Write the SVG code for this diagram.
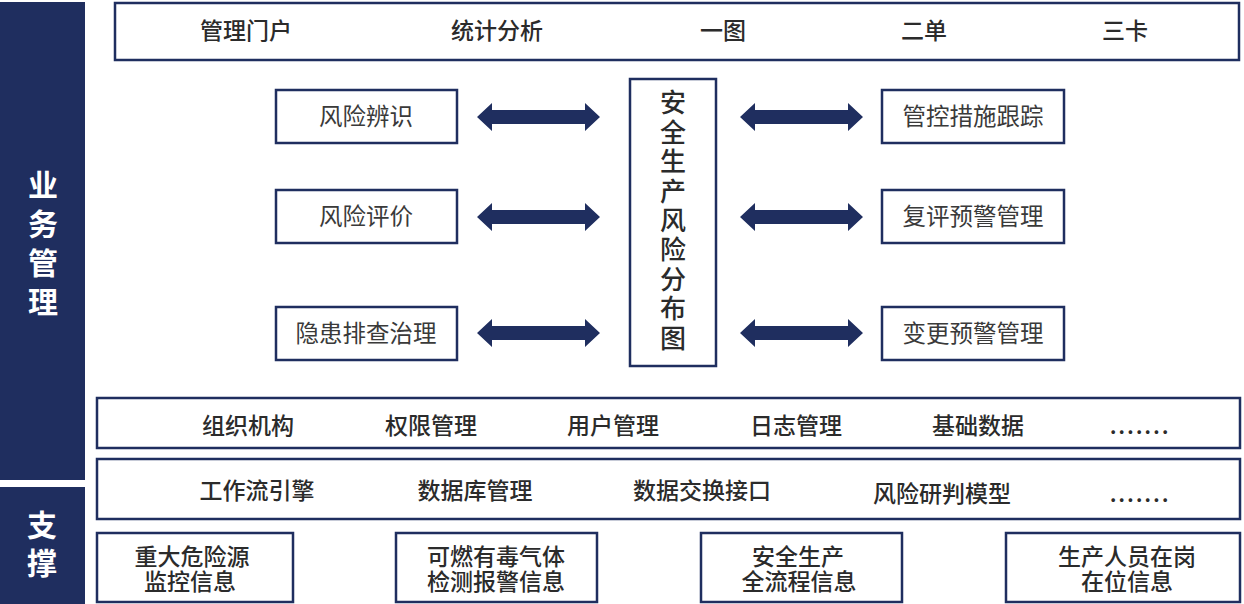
<svg xmlns="http://www.w3.org/2000/svg" width="1244" height="604" viewBox="0 0 1244 604">
<style>
.bar{fill:#1f2e5f}
.box{fill:#ffffff;stroke:#1f2e5f;stroke-width:2.5}
.side{font-family:"Noto Sans CJK SC","Noto Sans",sans-serif;font-size:30px;font-weight:bold;fill:#ffffff;writing-mode:vertical-rl;text-orientation:upright}
.t{font-family:"Noto Sans CJK SC","Noto Sans",sans-serif;font-size:23px;font-weight:500;fill:#2b2b2b;text-anchor:middle}
.m{font-family:"Noto Sans CJK SC","Noto Sans",sans-serif;font-size:23.5px;font-weight:400;fill:#3a3a3a;text-anchor:middle}
.c{font-family:"Noto Sans CJK SC","Noto Sans",sans-serif;font-size:26px;font-weight:500;fill:#2b2b2b;writing-mode:vertical-rl;text-orientation:upright;letter-spacing:3.4px}
.dots{letter-spacing:1.8px}
.arr{fill:#1f2e5f}
</style>
<defs>
<path id="dbl" d="M0,0 L15,-14 L15,-7 L108,-7 L108,-14 L123,0 L108,14 L108,7 L15,7 L15,14 Z"/>
</defs>
<rect width="1244" height="604" fill="#ffffff"/>

<g id="side-business">
<rect class="bar" x="0" y="2" width="85" height="478"/>
<text class="side" x="43" y="170" style="letter-spacing:9px">业务管理</text>
</g>
<g id="side-support">
<rect class="bar" x="0" y="487" width="85" height="117"/>
<text class="side" x="42" y="510" style="letter-spacing:8px">支撑</text>
</g>

<g id="top-bar">
<rect class="box" x="115" y="3" width="1124" height="57"/>
<text class="t" x="246" y="39">管理门户</text>
<text class="t" x="497" y="39">统计分析</text>
<text class="t" x="723" y="39">一图</text>
<text class="t" x="924" y="39">二单</text>
<text class="t" x="1125" y="39">三卡</text>
</g>

<g id="node-fxbs">
<rect class="box" x="276" y="90" width="181" height="53"/>
<text class="m" x="366" y="125">风险辨识</text>
</g>
<g id="node-fxpj">
<rect class="box" x="276" y="190" width="181" height="53"/>
<text class="m" x="366" y="225">风险评价</text>
</g>
<g id="node-yhpc">
<rect class="box" x="276" y="307" width="181" height="53"/>
<text class="m" x="366" y="342">隐患排查治理</text>
</g>
<g id="node-center">
<rect class="box" x="630" y="79" width="86" height="287"/>
<text class="c" x="673" y="89.5">安全生产风险分布图</text>
</g>
<g id="node-gkcs">
<rect class="box" x="882" y="90" width="182" height="53"/>
<text class="m" x="973" y="125">管控措施跟踪</text>
</g>
<g id="node-fpyj">
<rect class="box" x="882" y="190" width="182" height="53"/>
<text class="m" x="973" y="225">复评预警管理</text>
</g>
<g id="node-bgyj">
<rect class="box" x="882" y="307" width="182" height="53"/>
<text class="m" x="973" y="342">变更预警管理</text>
</g>

<g id="connectors">
<use href="#dbl" class="arr" transform="translate(477,117)"/>
<use href="#dbl" class="arr" transform="translate(477,217)"/>
<use href="#dbl" class="arr" transform="translate(477,333)"/>
<use href="#dbl" class="arr" transform="translate(740,117)"/>
<use href="#dbl" class="arr" transform="translate(740,217)"/>
<use href="#dbl" class="arr" transform="translate(740,333)"/>
</g>

<g id="row-platform">
<rect class="box" x="97" y="398" width="1143" height="50"/>
<text class="t" x="248" y="434">组织机构</text>
<text class="t" x="431" y="434">权限管理</text>
<text class="t" x="613" y="434">用户管理</text>
<text class="t" x="796" y="434">日志管理</text>
<text class="t" x="978" y="434">基础数据</text>
<text class="t dots" x="1140" y="434">.......</text>
</g>
<g id="row-engine">
<rect class="box" x="97" y="459" width="1143" height="60"/>
<text class="t" x="257" y="499">工作流引擎</text>
<text class="t" x="475" y="499">数据库管理</text>
<text class="t" x="702" y="499">数据交换接口</text>
<text class="t" x="942" y="502">风险研判模型</text>
<text class="t dots" x="1140" y="502">.......</text>
</g>

<g id="node-zdwxy">
<rect class="box" x="97" y="533" width="196" height="69"/>
<text class="t"><tspan x="192" y="565">重大危险源</tspan><tspan x="190" y="590">监控信息</tspan></text>
</g>
<g id="node-krydqt">
<rect class="box" x="396" y="533" width="201" height="69"/>
<text class="t"><tspan x="496" y="565">可燃有毒气体</tspan><tspan x="496" y="590">检测报警信息</tspan></text>
</g>
<g id="node-aqsc">
<rect class="box" x="701" y="533" width="201" height="69"/>
<text class="t"><tspan x="798" y="565">安全生产</tspan><tspan x="799" y="590">全流程信息</tspan></text>
</g>
<g id="node-scry">
<rect class="box" x="1006" y="533" width="234" height="69"/>
<text class="t"><tspan x="1127" y="565">生产人员在岗</tspan><tspan x="1127" y="590">在位信息</tspan></text>
</g>
</svg>
